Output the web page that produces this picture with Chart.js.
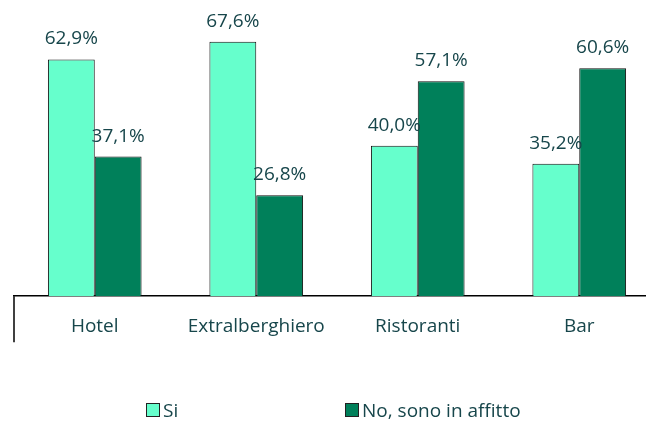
<!DOCTYPE html>
<html>
<head>
<meta charset="utf-8">
<script src="https://cdn.jsdelivr.net/npm/chart.js@4"></script>
<style>
    html, body { margin: 0; padding: 0; background: #fff; }
    #wrap { position: relative; width: 646px; height: 430px; overflow: hidden; }
    #legend { position: absolute; top: 397px; left: 0; width: 646px; font-family: "Open Sans", sans-serif; font-size: 19px; color: #17464b; }
    .item { position: absolute; display: flex; align-items: center; white-space: nowrap; }
    .box { width: 12px; height: 12px; border: 1px solid #222; margin-right: 3px; }
</style>
</head>
<body>
<div id="wrap">
    <canvas id="chart" width="660" height="430"></canvas>
    <div id="legend"></div>
</div>
<script>
// Data
const categories = ['Hotel', 'Extralberghiero', 'Ristoranti', 'Bar'];
const seriesNames = ['Si', 'No, sono in affitto'];
const siValues = [62.9, 67.6, 40.0, 35.2];
const noValues = [37.1, 26.8, 57.1, 60.6];
const seriesColors = ['#66ffcc', '#00805a'];
const legendLeft = [146, 345];

const TEXT_COLOR = '#17464b';
const FONT = '"Open Sans", sans-serif';

// value labels above bars, written with a comma as decimal separator
const valueLabels = {
    id: 'valueLabels',
    afterDatasetsDraw(chart) {
        const ctx = chart.ctx;
        ctx.save();
        ctx.font = `19px ${FONT}`;
        ctx.fillStyle = TEXT_COLOR;
        ctx.textAlign = 'center';
        ctx.textBaseline = 'bottom';
        chart.data.datasets.forEach((ds, i) => {
            chart.getDatasetMeta(i).data.forEach((bar, j) => {
                const txt = ds.data[j].toFixed(1).replace('.', ',') + '%';
                ctx.fillText(txt, bar.x, bar.y - 11);
            });
        });
        ctx.restore();
    }
};

// short vertical tick at the left end of the category axis
const leftTick = {
    id: 'leftTick',
    afterDraw(chart) {
        const { ctx, chartArea } = chart;
        ctx.save();
        ctx.strokeStyle = '#000';
        ctx.lineWidth = 1.5;
        ctx.beginPath();
        ctx.moveTo(chartArea.left, chartArea.bottom);
        ctx.lineTo(chartArea.left, chartArea.bottom + 46);
        ctx.stroke();
        ctx.restore();
    }
};

new Chart(document.getElementById('chart'), {
    type: 'bar',
    data: {
        labels: categories,
        datasets: [
            { label: seriesNames[0], data: siValues, backgroundColor: seriesColors[0], borderColor: '#111', borderWidth: 1 },
            { label: seriesNames[1], data: noValues, backgroundColor: seriesColors[1], borderColor: '#111', borderWidth: 1 }
        ]
    },
    options: {
        responsive: false,
        animation: false,
        layout: { padding: { left: 14, top: 14, right: 0, bottom: 73 } },
        plugins: { legend: { display: false }, tooltip: { enabled: false } },
        datasets: { bar: { categoryPercentage: 0.58, barPercentage: 1.0 } },
        scales: {
            x: {
                grid: { display: false, drawTicks: false },
                border: { color: '#000', width: 1.5 },
                ticks: { color: TEXT_COLOR, font: { family: FONT, size: 19 }, padding: 19 }
            },
            y: {
                display: false,
                min: 0,
                max: 75
            }
        }
    },
    plugins: [valueLabels, leftTick]
});

// legend
const legend = document.getElementById('legend');
legend.innerHTML = seriesNames.map((name, i) =>
    `<div class="item" style="left:${legendLeft[i]}px"><span class="box" style="background:${seriesColors[i]}"></span>${name}</div>`
).join('');
</script>
</body>
</html>
